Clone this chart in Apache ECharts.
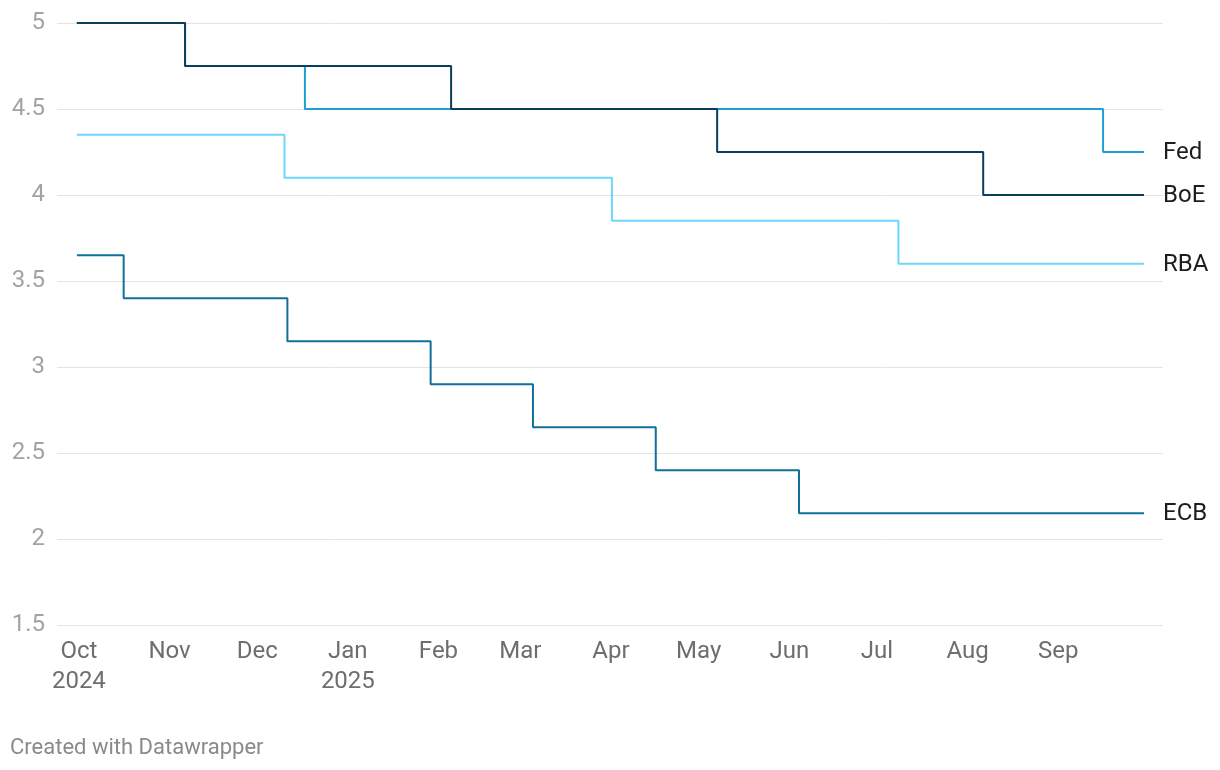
<!DOCTYPE html>
<html>
<head>
<meta charset="utf-8">
<script src="https://cdn.jsdelivr.net/npm/echarts@6/dist/echarts.min.js"></script>
<style>
html,body{margin:0;padding:0;background:#fff;}
#chart{width:1220px;height:770px;}
</style>
</head>
<body>
<div id="chart"></div>
<script>
// Data (policy rates, step changes)
const fedDates = ['2024-10-01','2024-11-07','2024-12-18','2025-09-17','2025-10-01'];
const fedRates = [5.00, 4.75, 4.50, 4.25, 4.25];
const boeDates = ['2024-10-01','2024-11-07','2025-02-06','2025-05-08','2025-08-07','2025-10-01'];
const boeRates = [5.00, 4.75, 4.50, 4.25, 4.00, 4.00];
const rbaDates = ['2024-10-01','2024-12-11','2025-04-02','2025-07-09','2025-10-01'];
const rbaRates = [4.35, 4.10, 3.85, 3.60, 3.60];
const ecbDates = ['2024-10-01','2024-10-17','2024-12-12','2025-01-30','2025-03-06','2025-04-17','2025-06-05','2025-10-01'];
const ecbRates = [3.65, 3.40, 3.15, 2.90, 2.65, 2.40, 2.15, 2.15];
const yTicks = [1.5, 2, 2.5, 3, 3.5, 4, 4.5, 5];
const monthNames = ['Jan','Feb','Mar','Apr','May','Jun','Jul','Aug','Sep','Oct','Nov','Dec'];

const zip = (d, v) => d.map((x, i) => [x, v[i]]);
const DAY = 86400000;
const xMin = new Date(2024, 9, 1).getTime() - 6.8 * DAY;
const xMax = new Date(2025, 9, 1).getTime() + 6.5 * DAY;

const chart = echarts.init(document.getElementById('chart'));
const font = 'Roboto, "Noto Sans", sans-serif';

function mkSeries(name, data, color, z) {
  return {
    name, type: 'line', step: 'end', data, symbol: 'none', z,
    lineStyle: { color, width: 2 },
    itemStyle: { color },
    emphasis: { disabled: true },
    endLabel: {
      show: true, formatter: '{a}', color: '#1d1d1d', fontSize: 24,
      fontFamily: font, distance: 19, offset: [0, 1]
    },
    animation: false
  };
}

chart.setOption({
  animation: false,
  textStyle: { fontFamily: font },
  grid: { left: 57, right: 57, top: 23, bottom: 145, containLabel: false },
  xAxis: {
    type: 'time', min: xMin, max: xMax,
    minInterval: 28 * DAY, maxInterval: 31 * DAY,
    axisLine: { show: false }, axisTick: { show: false },
    splitLine: { show: false },
    axisLabel: {
      color: '#6e6e6e', fontSize: 24, fontFamily: font, margin: 12, lineHeight: 30,
      padding: [0, 0, 0, 4],
      showMinLabel: false, showMaxLabel: false, hideOverlap: false,
      formatter: function (v) {
        const d = new Date(v);
        if (d.getDate() !== 1) return '';
        const m = d.getMonth(), y = d.getFullYear();
        if (y === 2025 && m >= 9) return '';
        let s = monthNames[m];
        if (m === 0 || (m === 9 && y === 2024)) s += '\n' + y;
        return s;
      }
    }
  },
  yAxis: {
    type: 'value', min: 1.5, max: 5, interval: 0.5,
    axisLine: { show: false }, axisTick: { show: false },
    splitLine: { lineStyle: { color: '#e4e4e4', width: 1 } },
    axisLabel: {
      color: '#a3a3a3', fontSize: 24, fontFamily: font, margin: 12,
      formatter: v => yTicks.includes(v) ? String(v) : ''
    }
  },
  series: [
    mkSeries('RBA', zip(rbaDates, rbaRates), '#6dd6fb', 2),
    mkSeries('ECB', zip(ecbDates, ecbRates), '#10709a', 3),
    mkSeries('Fed', zip(fedDates, fedRates), '#1f9fd2', 4),
    mkSeries('BoE', zip(boeDates, boeRates), '#0a3d5e', 5)
  ],
  graphic: [{
    type: 'text', left: 10, top: 737,
    style: { text: 'Created with Datawrapper', fill: '#8a8a8a', fontSize: 22, fontFamily: font }
  }]
});
</script>
</body>
</html>
